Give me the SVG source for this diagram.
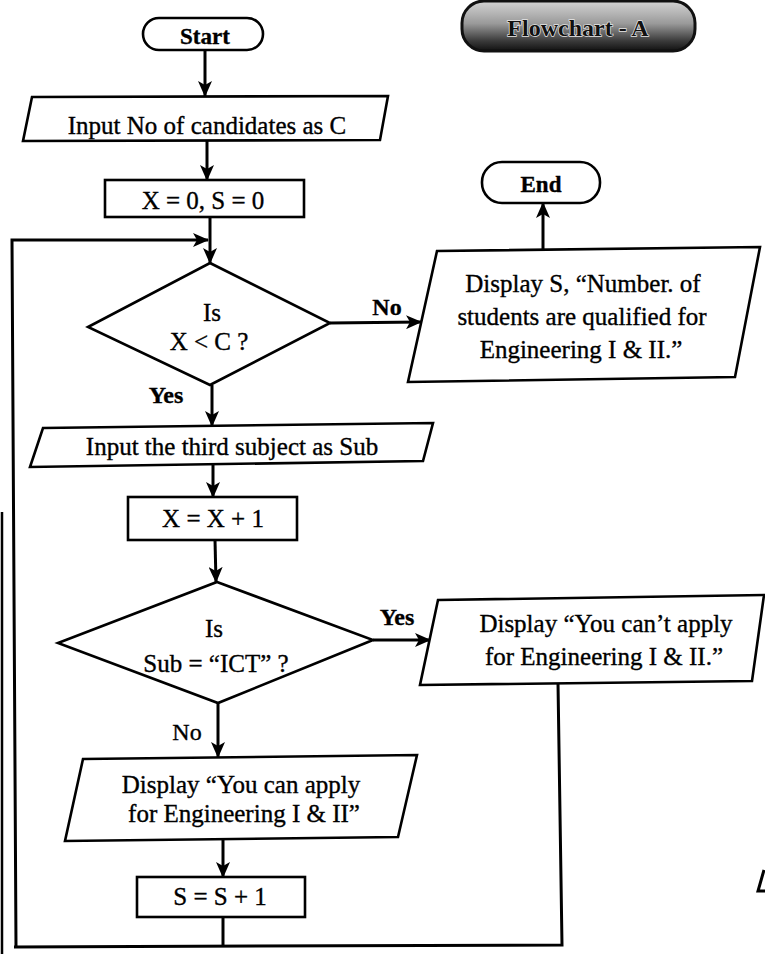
<svg xmlns="http://www.w3.org/2000/svg" width="765" height="954" viewBox="0 0 765 954">
<defs>
<style>
.shape{fill:#fff;stroke:#000;stroke-width:2.6;stroke-linejoin:miter}
.line{fill:none;stroke:#000;stroke-width:3}
.t{font-family:"Liberation Serif","Times New Roman",serif;font-size:25px;fill:#000;stroke:#000;stroke-width:0.35;text-anchor:middle}
.b{font-weight:bold}
.lbl{font-family:"Liberation Serif","Times New Roman",serif;font-size:24px;fill:#000;stroke:#000;stroke-width:0.35;text-anchor:middle}
</style>
<marker id="arr" markerUnits="userSpaceOnUse" markerWidth="16" markerHeight="14" refX="15" refY="7" orient="auto">
<path d="M0,0 L16,7 L0,14 L4,7 z" fill="#000"/>
</marker>
<linearGradient id="badgeG" x1="0" y1="0" x2="0" y2="1">
<stop offset="0" stop-color="#d4d4d4"/>
<stop offset="0.45" stop-color="#9a9a9a"/>
<stop offset="0.8" stop-color="#3a3a3a"/>
<stop offset="1" stop-color="#111"/>
</linearGradient>
</defs>
<rect width="765" height="954" fill="#fff"/>

<g id="connectors">
<line class="line" x1="205" y1="50" x2="205" y2="96" marker-end="url(#arr)"/>
<line class="line" x1="207" y1="141" x2="207" y2="180" marker-end="url(#arr)"/>
<line class="line" x1="210" y1="217" x2="210" y2="263" marker-end="url(#arr)"/>
<polyline class="line" points="16,946 12,240 208,240" marker-end="url(#arr)"/>
<line class="line" x1="330" y1="323" x2="421" y2="322" marker-end="url(#arr)"/>
<line class="line" x1="543" y1="250" x2="543" y2="203" marker-end="url(#arr)"/>
<line class="line" x1="212" y1="385" x2="212" y2="426" marker-end="url(#arr)"/>
<line class="line" x1="213" y1="464" x2="213" y2="497" marker-end="url(#arr)"/>
<line class="line" x1="215" y1="540" x2="216" y2="582" marker-end="url(#arr)"/>
<line class="line" x1="373" y1="640" x2="430" y2="640" marker-end="url(#arr)"/>
<line class="line" x1="218" y1="703" x2="218" y2="757" marker-end="url(#arr)"/>
<line class="line" x1="223" y1="839" x2="223" y2="877" marker-end="url(#arr)"/>
<line class="line" x1="223" y1="917" x2="223" y2="946"/>
<polyline class="line" points="558,683 562,945 14,947"/>
<line x1="2" y1="512" x2="2" y2="954" stroke="#000" stroke-width="2.5"/>
<path d="M764,870 L758,891 L765,891" fill="none" stroke="#000" stroke-width="3"/>
</g>

<g id="badge">
<rect x="462" y="1" width="233" height="50" rx="22" fill="url(#badgeG)" stroke="#111" stroke-width="3"/>
<text x="578" y="36" class="t b" style="font-size:24px;fill:#111;stroke:#e6e6e6;stroke-width:1.4;paint-order:stroke">Flowchart - A</text>
</g>

<g id="start">
<rect class="shape" x="143" y="18" width="120" height="32" rx="16"/>
<text class="t b" x="205" y="44" style="font-size:23px">Start</text>
</g>

<g id="inputC">
<polygon class="shape" points="32,97 388,96 380,140 23,141"/>
<text class="t" x="207" y="134">Input No of candidates as C</text>
</g>

<g id="init">
<rect class="shape" x="105" y="180" width="199" height="37"/>
<text class="t" x="203" y="209">X = 0, S = 0</text>
</g>

<g id="decision1">
<polygon class="shape" points="210,263 330,323 210,385 88,327"/>
<text class="t" x="212" y="321">Is</text>
<text class="t" x="209" y="350">X &lt; C ?</text>
</g>

<g id="labelNo1"><text class="lbl b" x="387" y="315">No</text></g>
<g id="labelYes1"><text class="lbl b" x="166" y="403">Yes</text></g>

<g id="displayS">
<polygon class="shape" points="437,251 760,247 735,377 408,382"/>
<text class="t" x="583" y="292">Display S, “Number. of</text>
<text class="t" x="582" y="325">students are qualified for</text>
<text class="t" x="581" y="358">Engineering I &amp; II.”</text>
</g>

<g id="end">
<rect class="shape" x="482" y="162" width="118" height="41" rx="20"/>
<text class="t b" x="541" y="192" style="font-size:23px">End</text>
</g>

<g id="inputSub">
<polygon class="shape" points="43,428 433,423 423,461 30,467"/>
<text class="t" x="232" y="455">Input the third subject as Sub</text>
</g>

<g id="incX">
<rect class="shape" x="128" y="497" width="169" height="43"/>
<text class="t" x="213" y="527">X = X + 1</text>
</g>

<g id="decision2">
<polygon class="shape" points="217,582 373,640 218,703 58,643"/>
<text class="t" x="214" y="637">Is</text>
<text class="t" x="216" y="672">Sub = “ICT” ?</text>
</g>

<g id="labelYes2"><text class="lbl b" x="397" y="625">Yes</text></g>
<g id="labelNo2"><text class="lbl" x="187" y="740">No</text></g>

<g id="cantApply">
<polygon class="shape" points="438,600 764,595 752,681 420,685"/>
<text class="t" x="606" y="632">Display “You can’t apply</text>
<text class="t" x="604" y="665">for Engineering I &amp; II.”</text>
</g>

<g id="canApply">
<polygon class="shape" points="83,759 417,755 398,837 65,841"/>
<text class="t" x="241" y="793">Display “You can apply</text>
<text class="t" x="244" y="822">for Engineering I &amp; II”</text>
</g>

<g id="incS">
<rect class="shape" x="137" y="877" width="168" height="40"/>
<text class="t" x="220" y="905">S = S + 1</text>
</g>
</svg>
